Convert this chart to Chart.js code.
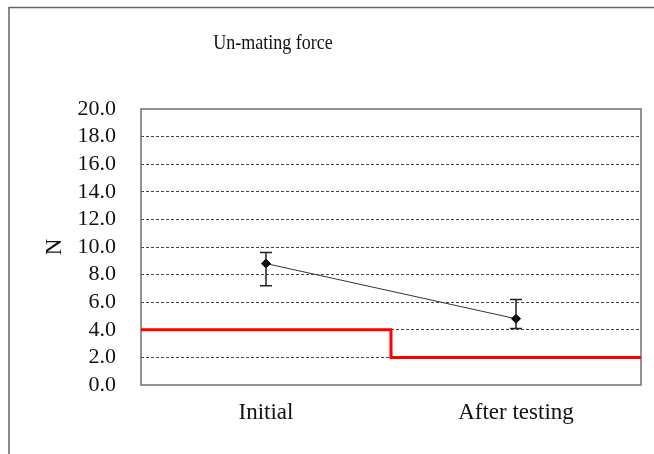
<!DOCTYPE html>
<html>
<head>
<meta charset="utf-8">
<script src="https://cdn.jsdelivr.net/npm/chart.js@4"></script>
<style>
  html, body { margin: 0; padding: 0; background: #fff; }
  #wrap { width: 654px; height: 454px; }
</style>
</head>
<body>
<div id="wrap"><canvas id="chart"></canvas></div>
<script>
const chartTitle = 'Un-mating force';
const categories = ['Initial', 'After testing'];
const meanValues = [8.8, 4.8];
const errHigh = [9.6, 6.2];
const errLow = [7.2, 4.1];
const limitValues = [4.0, 2.0];
const yTicks = [0, 2, 4, 6, 8, 10, 12, 14, 16, 18, 20];

// step line for the limit: one step per category, built from limitValues
const limitPoints = limitValues.map((v, i) => ({ x: i, y: v }));
limitPoints.push({ x: limitValues.length, y: limitValues[limitValues.length - 1] });

const serif = 'Liberation Serif';

const frame = {
    id: 'frame',
    beforeDraw(chart) {
        const ctx = chart.ctx;
        ctx.save();
        ctx.strokeStyle = '#666';
        ctx.lineWidth = 1.5;
        ctx.beginPath();
        ctx.moveTo(9, 454);
        ctx.lineTo(9, 7.5);
        ctx.lineTo(654, 7.5);
        ctx.stroke();

        // title, a bit narrow like the original
        ctx.fillStyle = '#111';
        ctx.font = '22px ' + serif;
        ctx.textAlign = 'center';
        ctx.textBaseline = 'middle';
        ctx.translate(273, 43);
        ctx.scale(0.82, 1);
        ctx.fillText(chartTitle, 0, 0);
        ctx.restore();
    },
    beforeDatasetsDraw(chart) {
        const { left, top, right, bottom } = chart.chartArea;
        const ctx = chart.ctx;
        ctx.save();
        ctx.strokeStyle = '#707070';
        ctx.lineWidth = 1.5;
        ctx.strokeRect(left, top, right - left, bottom - top);
        ctx.restore();
    }
};

const errorBars = {
    id: 'errorBars',
    afterDatasetsDraw(chart) {
        const ctx = chart.ctx;
        const xs = chart.scales.x;
        const ys = chart.scales.y;
        ctx.save();
        ctx.strokeStyle = '#222';
        ctx.lineWidth = 1.5;
        meanValues.forEach((v, i) => {
            const x = xs.getPixelForValue(i);
            const yt = ys.getPixelForValue(errHigh[i]);
            const yb = ys.getPixelForValue(errLow[i]);
            ctx.beginPath();
            ctx.moveTo(x, yt); ctx.lineTo(x, yb);
            ctx.moveTo(x - 6, yt); ctx.lineTo(x + 6, yt);
            ctx.moveTo(x - 6, yb); ctx.lineTo(x + 6, yb);
            ctx.stroke();
        });
        ctx.restore();
    }
};

new Chart(document.getElementById('chart'), {
    type: 'line',
    data: {
        labels: categories,
        datasets: [{
            label: chartTitle,
            data: meanValues,
            borderColor: '#333',
            borderWidth: 1,
            pointStyle: 'rectRot',
            pointRadius: 4.5,
            pointBackgroundColor: '#000',
            pointBorderColor: '#000',
            xAxisID: 'x',
            order: 0
        }, {
            label: 'Limit',
            data: limitPoints,
            borderColor: '#ff0000',
            borderWidth: 3,
            stepped: true,
            pointRadius: 0,
            xAxisID: 'x2',
            order: 1
        }]
    },
    options: {
        responsive: true,
        maintainAspectRatio: false,
        animation: false,
        layout: { padding: { left: 10, right: 13, top: 109, bottom: 0 } },
        plugins: {
            legend: { display: false },
            tooltip: { enabled: false },
            title: { display: false }
        },
        scales: {
            x: {
                type: 'category',
                offset: true,
                grid: { display: false, drawTicks: false },
                border: { display: false },
                ticks: {
                    color: '#111',
                    padding: 14,
                    font: { family: serif, size: 23 }
                },
                afterFit(scale) { scale.height = 69; }
            },
            x2: {
                type: 'linear',
                display: false,
                min: 0,
                max: categories.length
            },
            y: {
                min: 0,
                max: 20,
                afterBuildTicks(scale) { scale.ticks = yTicks.map(v => ({ value: v })); },
                grid: {
                    drawTicks: false,
                    color: ctx => (ctx.tick.value === 0 || ctx.tick.value === 20) ? 'rgba(0,0,0,0)' : '#444',
                    lineWidth: 1
                },
                border: { display: false, dash: [3, 2] },
                ticks: {
                    color: '#111',
                    padding: 25,
                    autoSkip: false,
                    font: { family: serif, size: 22 },
                    callback: v => v.toFixed(1)
                },
                title: {
                    display: true,
                    text: 'N',
                    color: '#111',
                    font: { family: serif, size: 23 },
                    padding: { top: 31, bottom: 0 }
                },
                afterFit(scale) { scale.width = 131; }
            }
        }
    },
    plugins: [frame, errorBars]
});
</script>
</body>
</html>
